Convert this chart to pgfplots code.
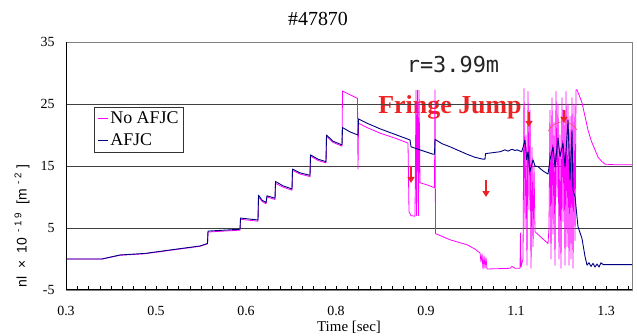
\documentclass[border=0pt]{standalone}
\usepackage{fontspec}
\setmainfont{Liberation Serif}
\setsansfont{Liberation Sans}
\newfontfamily\monofont{DejaVu Sans Mono}
\usepackage{pgfplots}
\pgfplotsset{compat=1.18}
\usetikzlibrary{arrows.meta}
\definecolor{noafjc}{HTML}{FF00FF}
\definecolor{afjc}{HTML}{000080}
\definecolor{fj}{HTML}{EE2222}

\pgfplotstableread{
t v
0.3 0
0.364 0
0.396 0.65
0.44044 0.9
0.48489 1.45
0.53822 2.1
0.55156 2.5
0.55244 4.5
0.60933 4.8
0.61022 6.6
0.64133 6.3
0.64222 10.3
0.64844 9.5
0.65556 9.1
0.65733 10.2
0.67156 9.8
0.67244 12.5
0.68578 11.8
0.70178 11.3
0.70267 14.5
0.716 13.9
0.73378 13.5
0.73467 16.8
0.748 16.1
0.76222 15.7
0.76311 20.0
0.77467 19.0
0.79067 18.4
0.79156 21.2
0.80489 20.5
0.81911 20.0
0.82 22.6
0.83511 21.9
0.85822 21.0
0.88489 20.1
0.91156 19.2
0.91333 18.1
0.92933 17.6
0.95244 16.9
0.95511 16.9
0.956 19.3
0.96844 18.6
0.98267 18.1
1.01289 16.9
1.02711 16.4
1.04133 16.1
1.04489 16.1
1.04578 17.0
1.07156 17.3
1.08044 17.6
1.08578 17.4
1.09289 17.7
1.09822 17.5
1.10178 17.6
1.11013 17.3
1.11244 18.0
1.116 19.2
1.11902 16.0
1.12133 17.3
1.12489 14.1
1.13022 16.0
1.13378 15.0
1.13911 14.9
1.148 14.2
1.15689 13.7
1.16044 16.0
1.16578 18.1
1.16933 14.8
1.17467 19.5
1.17822 16.5
1.18356 18.7
1.18711 14.9
1.19244 22.4
1.196 12.7
1.19956 20.8
1.20133 11.1
1.20489 10.1
1.20844 6.8
1.21022 5.2
1.21733 3.3
1.22267 0.4
1.22622 -1.0
1.22978 -0.6
1.23333 -1.2
1.23689 -0.7
1.24044 -1.3
1.244 -0.8
1.24756 -1.3
1.25111 -0.6
1.25467 -0.9
1.30622 -0.9
}\afjcdata

\pgfplotstableread{
t v
0.3 0
0.364 0
0.396 0.6
0.44044 0.85
0.48489 1.4
0.53822 2.05
0.55156 2.45
0.55244 4.35
0.60933 4.65
0.61022 6.4
0.64133 6.1
0.64222 10.0
0.64844 9.3
0.65556 8.9
0.65733 10.0
0.67156 9.6
0.67244 12.2
0.68578 11.6
0.70178 11.1
0.70267 14.3
0.716 13.7
0.73378 13.3
0.73467 16.6
0.748 15.9
0.76222 15.5
0.76311 19.8
0.77467 18.8
0.79067 18.2
0.79156 27.1
0.81822 25.9
0.81911 14.5
0.82 21.9
0.83511 21.2
0.85822 20.3
0.88489 19.5
0.908 18.7
0.90978 7.6
0.91333 7.0
0.92044 6.9
0.92222 27.2
0.92311 7.0
0.92489 27.2
0.92667 7.0
0.92756 27.2
0.92933 12.3
0.94356 11.9
0.95511 11.5
0.956 27.3
0.95689 4.1
0.98267 3.1
1.01289 2.3
1.02711 1.6
1.03244 1.2
1.036 1.0
1.03778 -0.5
1.03956 0.8
1.04133 -1.6
1.04311 0.5
1.04489 -1.5
1.04667 0.2
1.04844 -1.6
1.05378 -1.6
1.08933 -1.5
1.09289 -1.2
1.09822 -1.5
1.10711 -1.5
1.108 4.2
1.10889 -1.3
1.11244 0
1.11422 27.5
1.116 5
1.11778 20
1.11956 -1
1.12133 27
1.12311 8
1.12489 24
1.12667 -1.5
1.12844 18
1.13022 2
1.132 15
1.13378 4.4
1.15689 2.5
1.15867 5.0
1.16044 24
1.16222 0
1.164 26
1.16578 4
1.16756 22
1.16933 -1
1.17111 27
1.17289 10
1.17467 25
1.17644 0
1.17822 20
1.18 -1.5
1.18178 26
1.18356 6
1.18533 24
1.18711 -1
1.18889 27
1.19067 2
1.19244 25
1.19422 -1
1.196 23
1.19778 0
1.19956 26
1.20133 -1.5
1.20311 25
1.20489 3
1.20667 27.3
1.20844 27.3
1.21733 25.2
1.228 20.8
1.234 19.0
1.24044 17.6
1.246 16.4
1.25289 15.7
1.25822 15.3
1.276 15.2
1.30622 15.2
}\noafjcdata

\begin{document}
\begin{tikzpicture}
\useasboundingbox (-66bp,-46bp) rectangle (571bp,290bp);
% texts that lie under the grid and curves
\node[anchor=base, font=\monofont\fontsize{22}{26}\selectfont, text=black!85] at (387bp,217bp) {r=3.99m};
\node[anchor=base, font=\bfseries\fontsize{26}{30}\selectfont, text=fj] at (384bp,176.7bp) {Fringe Jump};
\begin{axis}[
  at={(0,0)}, anchor=south west,
  scale only axis, width=566bp, height=248bp,
  xmin=0.3, xmax=1.30622, ymin=-5, ymax=35,
  xtick={0.3,0.46,0.62,0.78,0.94,1.10,1.26},
  xticklabels={0.3,0.5,0.6,0.8,0.9,1.1,1.3},
  minor xtick={0.32,0.34,...,1.301},
  ytick={-5,5,15,25,35},
  ymajorgrids, grid style={black!75, line width=0.6pt},
  tick align=inside, major tick length=4bp, minor tick length=4bp,
  xtick pos=bottom, ytick pos=left,
  x tick style={black, line width=0.5pt},
  y tick style={draw=none},
  axis line style={draw=black!50, line width=0.6pt},
  tick label style={font=\fontsize{14}{16}\selectfont},
  /pgf/number format/assume math mode=true,
  xticklabel style={anchor=base, yshift=-25bp},
  yticklabel style={anchor=east, xshift=-8bp},
  legend cell align=left,
  legend style={at={(rel axis cs:0.0495,0.738)}, anchor=north west,
    draw=black!80, line width=0.6pt, fill=white,
    nodes={draw=none, fill=none},
    font=\fontsize{18}{20}\selectfont, inner xsep=3bp, inner ysep=2.5bp,
    row sep=5bp},
]
\addplot[draw=noafjc, line width=0.8pt, line join=round, forget plot] table[x=t, y=v] {\noafjcdata};
\addplot[draw=afjc, line width=0.9pt, line join=round, forget plot] table[x=t, y=v] {\afjcdata};
\addlegendimage{legend image code/.code={\draw[draw=noafjc, line width=1pt] (0bp,0bp) -- (10bp,0bp);}}
\addlegendentry{No AFJC}
\addlegendimage{legend image code/.code={\draw[draw=afjc, line width=1pt] (0bp,0bp) -- (10bp,0bp);}}
\addlegendentry{AFJC}
\draw[black, line width=1.2pt] (rel axis cs:0,1) -- (rel axis cs:0,0) -- (rel axis cs:1,0);
\draw[fj, line width=1.6bp, -{Triangle[width=7bp,length=6bp]}] (axis cs:0.91333,15.0) -- (axis cs:0.91333,12.26);
\draw[fj, line width=1.6bp, -{Triangle[width=7bp,length=6bp]}] (axis cs:1.04667,12.74) -- (axis cs:1.04667,10.0);
\draw[fj, line width=1.6bp, -{Triangle[width=7bp,length=6bp]}] (axis cs:1.12311,23.76) -- (axis cs:1.12311,21.3);
\draw[fj, line width=1.6bp, -{Triangle[width=7bp,length=6bp]}] (axis cs:1.18533,24.03) -- (axis cs:1.18533,21.94);
\draw[fj!80, line width=0.5pt] (axis cs:1.1569,20.6) .. controls (axis cs:1.168,22.6) and (axis cs:1.197,22.6) .. (axis cs:1.2084,20.8);
\end{axis}
\node[font=\fontsize{20}{24}\selectfont] at (252bp,271bp) {\#47870};
\node[rotate=90, font=\sffamily\fontsize{14}{16}\selectfont] at (-44bp,64bp) {nl\ \ ×\ \ 10\,\textsuperscript{ -\ 1\ 9}\ \ [m\,\textsuperscript{ -\ 2}\ ]};
\node[anchor=base, font=\fontsize{15}{18}\selectfont] at (283bp,-41.5bp) {Time [sec]};
\end{tikzpicture}
\end{document}
